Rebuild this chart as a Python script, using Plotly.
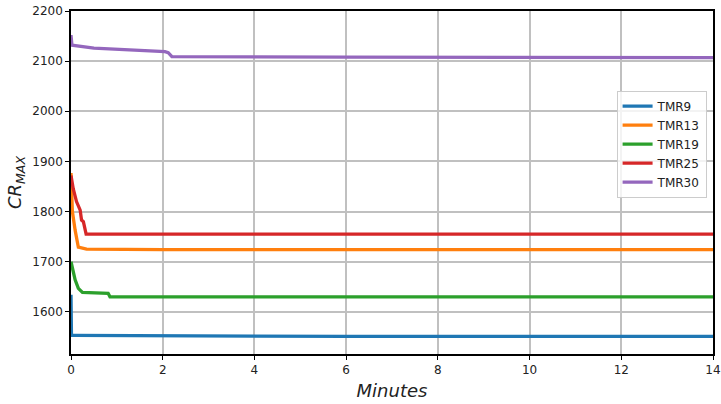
import plotly.graph_objects as go

names = ["TMR9", "TMR13", "TMR19", "TMR25", "TMR30"]
colors = ["#1f77b4", "#ff7f0e", "#2ca02c", "#d62728", "#9467bd"]

tmr9_x = [0, 0.01, 0.05, 2, 6, 14]
tmr9_y = [1634, 1553, 1553, 1552, 1551, 1551]

tmr13_x = [0, 0.03, 0.09, 0.16, 0.34, 2, 14]
tmr13_y = [1877, 1800, 1763, 1729, 1725, 1724, 1724]

tmr19_x = [0, 0.05, 0.09, 0.16, 0.25, 0.81, 0.85, 2, 14]
tmr19_y = [1700, 1680, 1664, 1647, 1639, 1637, 1630, 1630, 1630]

tmr25_x = [0, 0.05, 0.12, 0.2, 0.23, 0.27, 0.33, 2, 14]
tmr25_y = [1872, 1845, 1820, 1803, 1783, 1780, 1755, 1755, 1755]

tmr30_x = [0, 0.02, 0.5, 2.05, 2.12, 2.2, 6, 14]
tmr30_y = [2152, 2132, 2126, 2119, 2117, 2109, 2108, 2107]

xs = [tmr9_x, tmr13_x, tmr19_x, tmr25_x, tmr30_x]
ys = [tmr9_y, tmr13_y, tmr19_y, tmr25_y, tmr30_y]

x_ticks = [0, 2, 4, 6, 8, 10, 12, 14]
y_ticks = [1600, 1700, 1800, 1900, 2000, 2100, 2200]

fig = go.Figure()
for n, c, x, y in zip(names, colors, xs, ys):
    fig.add_trace(go.Scatter(x=x, y=y, mode="lines", name=n,
                             line=dict(color=c, width=3.3)))

axis_common = dict(showline=True, linecolor="black", linewidth=1.5, mirror=True,
                   ticks="outside", ticklen=4, tickcolor="black",
                   showgrid=True, gridcolor="#c0c0c0", gridwidth=2,
                   zeroline=False, automargin=False,
                   tickfont=dict(family="DejaVu Sans", size=12, color="#222"))

fig.update_layout(
    width=721, height=404,
    margin=dict(l=71, r=8, t=11, b=50),
    plot_bgcolor="white", paper_bgcolor="white",
    font=dict(family="DejaVu Sans", color="#222"),
    xaxis=dict(range=[0, 14], tickvals=x_ticks,
               title=dict(text="<i>Minutes</i>", font=dict(size=18), standoff=8),
               **axis_common),
    yaxis=dict(range=[1516, 2200], tickvals=y_ticks,
               title=dict(text="<i>CR</i><sub><i>MAX</i></sub>", font=dict(size=18), standoff=6),
               **axis_common),
    legend=dict(x=0.99, y=0.768, xanchor="right", yanchor="top",
                bgcolor="rgba(255,255,255,0.8)", bordercolor="#ccc", borderwidth=1,
                font=dict(size=12), tracegroupgap=0, itemwidth=30),
    showlegend=True,
)

fig.write_html("out.html", config={"displayModeBar": False},
               post_script="document.body.style.margin='0';document.body.style.overflow='hidden';")
